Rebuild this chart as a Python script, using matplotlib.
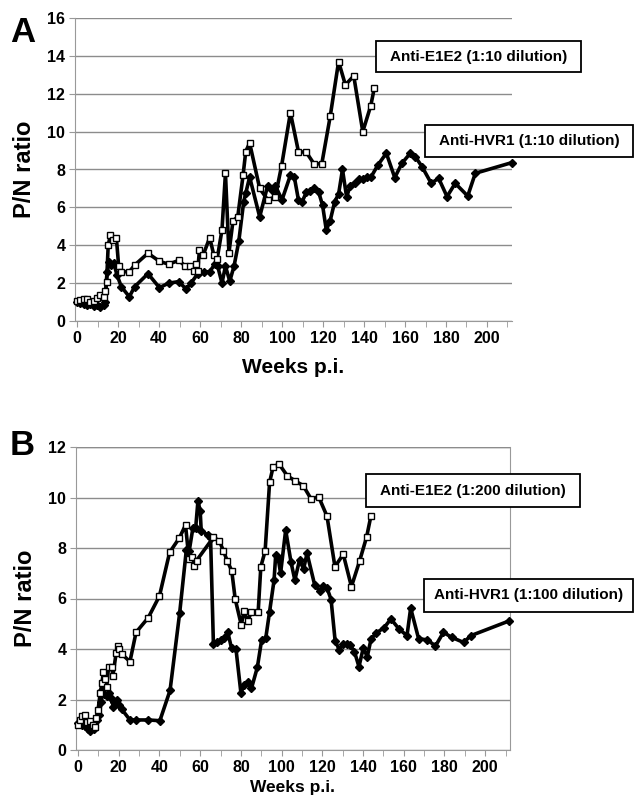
import numpy as np
import matplotlib.pyplot as plt
from matplotlib.patches import Rectangle
from matplotlib.ticker import MultipleLocator

plt.rcParams['font.family'] = ['Liberation Sans', 'DejaVu Sans']
plt.rcParams['font.weight'] = 'bold'

# ---- panel A (1:10 dilution) ----
a_e1e2_wk = [0, 1.6, 3.3, 4.9, 6.5, 8.1, 9.8, 11.4, 13.0, 13.8, 14.4, 15.2, 16.3, 17.4, 19.2,
             20.3, 21.5, 25.5, 28.1, 34.6, 40.2, 44.7, 49.6, 52.8, 55.3, 57.1, 58.0, 58.9, 59.7,
             61.6, 64.7, 66.7, 68.3, 70.7, 72.4, 74.1, 76.1, 78.4, 81.0, 82.3, 84.2, 89.1, 93.0,
             96.7, 99.8, 104.1, 108.0, 111.9, 115.6, 119.4, 123.5, 127.6, 130.9, 135.0, 139.4,
             143.3, 145.0]
a_e1e2 = [1.06, 1.1, 1.15, 1.15, 0.99, 1.06, 1.23, 1.37, 1.28, 1.58, 2.05, 4.0, 4.55, 4.3, 4.37,
          2.9, 2.6, 2.6, 2.95, 3.58, 3.15, 3.0, 3.2, 2.9, 2.9, 2.65, 3.0, 2.65, 3.75,
          3.5, 4.4, 3.5, 3.25, 4.8, 7.8, 3.6, 5.3, 5.5, 7.7, 8.95, 9.4, 7.0, 6.4,
          6.55, 8.2, 11.0, 8.95, 8.9, 8.3, 8.3, 10.8, 13.7, 12.47, 12.94, 10.0,
          11.37, 12.29]

a_hvr1_wk = [0, 1.6, 3.3, 4.9, 6.5, 8.1, 9.8, 11.4, 13.0, 13.8, 14.6, 15.8, 16.8, 17.9, 19.5,
             21.6, 25.5, 28.1, 34.6, 40.2, 44.7, 49.6, 53.2, 55.6, 58.9, 61.8, 64.7, 67.2, 68.6,
             70.7, 72.4, 74.5, 76.6, 78.9, 81.3, 82.3, 84.2, 89.1, 93.0, 95.1, 96.7, 100.0,
             104.1, 106.0, 108.0, 109.8, 111.9, 113.8, 115.8, 117.9, 119.8, 121.6, 123.5,
             125.7, 127.6, 129.5, 131.5, 133.3, 135.4, 137.4, 139.5, 141.5, 143.4, 146.8,
             150.9, 155.0, 158.5, 162.6, 165.0, 168.3, 172.8, 176.4, 180.5, 184.5, 190.6,
             194.3, 212.0]
a_hvr1 = [0.99, 0.93, 0.9, 0.85, 0.88, 0.79, 0.85, 0.76, 0.85, 0.99, 2.6, 3.1, 2.96, 3.05, 2.43,
          1.81, 1.28, 1.81, 2.5, 1.76, 2.0, 2.08, 1.69, 2.0, 2.5, 2.6, 2.6, 3.0, 2.9,
          2.0, 2.9, 2.1, 2.9, 4.2, 6.3, 6.75, 7.6, 5.5, 7.15, 6.9, 7.15, 6.4,
          7.7, 7.6, 6.4, 6.3, 6.8, 6.85, 7.0, 6.8, 6.1, 4.8, 5.3,
          6.3, 6.7, 8.0, 6.55, 7.15, 7.3, 7.5, 7.5, 7.6, 7.6, 8.24,
          8.86, 7.57, 8.33, 8.86, 8.68, 8.15, 7.27, 7.54, 6.57, 7.27, 6.6,
          7.8, 8.36]

# ---- panel B (1:200 / 1:100 dilution) ----
b_e1e2_wk = [0, 1.1, 2.0, 3.3, 4.4, 6.1, 7.2, 8.2, 8.9, 9.8, 10.9, 11.7, 12.5, 13.3, 14.1,
             15.0, 16.6, 17.1, 18.7, 19.5, 20.3, 21.5, 25.5, 28.5, 34.5, 40.0, 45.0, 49.8,
             52.8, 54.5, 55.8, 57.2, 58.2, 66.5, 69.4, 71.4, 73.3, 75.5, 77.2, 80.2, 81.5,
             83.3, 85.2, 88.5, 89.8, 91.9, 94.1, 95.8, 98.7, 102.8, 106.8, 110.6, 114.5,
             118.2, 122.3, 126.2, 130.3, 134.3, 138.3, 141.8, 143.9]
b_e1e2 = [0.99, 1.19, 1.35, 1.39, 1.12, 1.15, 0.99, 0.92, 1.25, 1.58, 2.24, 2.64, 3.1, 2.8, 2.51,
          3.3, 3.3, 2.93, 3.83, 4.12, 4.0, 3.8, 3.5, 4.66, 5.24, 6.1, 7.83, 8.4,
          8.91, 7.55, 7.65, 7.3, 7.5, 8.42, 8.29, 7.89, 7.49, 7.1, 5.98, 4.95, 5.5,
          5.1, 5.48, 5.48, 7.26, 7.88, 10.6, 11.2, 11.33, 10.86, 10.65, 10.47, 9.94,
          10.03, 9.26, 7.26, 7.75, 6.47, 7.48, 8.45, 9.28]

b_hvr1_wk = [0, 2.0, 3.6, 4.9, 6.1, 7.7, 9.3, 10.4, 11.4, 12.0, 13.0, 14.1, 15.3, 16.3, 17.4,
             17.9, 19.0, 20.3, 21.5, 25.5, 28.3, 34.5, 40.2, 45.2, 49.9, 53.2, 54.6, 56.4,
             57.8, 58.9, 60.0, 60.5, 63.8, 65.1, 66.5, 68.5, 70.2, 71.8, 73.5, 75.4, 77.6,
             80.0, 81.6, 83.3, 85.2, 88.1, 90.2, 92.2, 94.1, 96.3, 97.1, 98.3, 99.5, 102.0,
             104.6, 106.5, 108.8, 110.8, 112.5, 116.3, 118.7, 120.4, 122.3, 124.3, 126.3,
             128.4, 130.0, 132.0, 133.7, 135.8, 138.0, 140.1, 142.1, 143.9, 146.3, 150.4,
             153.7, 157.7, 161.6, 163.4, 167.3, 171.6, 175.6, 179.5, 183.6, 189.4, 193.0, 211.7]
b_hvr1 = [1.06, 0.99, 0.95, 0.82, 0.75, 0.82, 1.19, 1.39, 1.91, 2.38, 2.2, 2.15, 2.24, 2.05, 1.71,
          1.9, 1.98, 1.78, 1.61, 1.19, 1.19, 1.19, 1.16, 2.36, 5.41, 7.92, 7.88, 8.78,
          8.81, 9.86, 9.48, 8.69, 8.51, 8.4, 4.2, 4.28, 4.36, 4.42, 4.69, 4.03, 3.99,
          2.27, 2.57, 2.71, 2.44, 3.28, 4.36, 4.42, 5.48, 6.73, 7.72, 7.6, 7.0, 8.71,
          7.45, 6.73, 7.52, 7.17, 7.79, 6.52, 6.31, 6.5, 6.42, 5.96, 4.32,
          3.96, 4.2, 4.2, 4.16, 3.89, 3.3, 4.03, 3.7, 4.38, 4.62, 4.85,
          5.19, 4.79, 4.53, 5.62, 4.41, 4.36, 4.12, 4.66, 4.46, 4.26, 4.53, 5.11]

W, H = 634, 798
fig = plt.figure(figsize=(W / 100, H / 100), dpi=100)


def px_axes(l, t, r, b):
    return fig.add_axes([l / W, 1 - b / H, (r - l) / W, (b - t) / H])


def style(ax, ymax, box):
    ax.set_xlim(-1, 212.2)
    ax.set_ylim(0, ymax)
    ax.xaxis.set_major_locator(MultipleLocator(20))
    ax.xaxis.set_minor_locator(MultipleLocator(10))
    ax.yaxis.set_major_locator(MultipleLocator(2))
    ax.grid(axis='y', color='#8c8c8c', lw=1.0)
    ax.set_axisbelow(True)
    for s in ['left', 'bottom']:
        ax.spines[s].set_color('#999999')
    ax.spines['top'].set_visible(False)
    ax.spines['right'].set_visible(box)
    ax.spines['right'].set_color('#999999')
    ax.tick_params(which='both', direction='out', color='#999999', length=4,
                   labelsize=11.5, pad=3)
    ax.tick_params(which='minor', labelbottom=False)
    for lab in ax.get_xticklabels() + ax.get_yticklabels():
        lab.set_fontweight('bold')


def series(ax, x, y, sq):
    if sq:
        ax.plot(x, y, '-', color='black', lw=2.6, marker='s', ms=4.6, mfc='white',
                mec='black', mew=1.0, zorder=4, clip_on=False)
    else:
        ax.plot(x, y, '-', color='black', lw=2.6, marker='D', ms=3.6, mfc='black',
                mec='black', zorder=3, clip_on=False)


def label_box(x0, y0, x1, y1, txt):
    fig.add_artist(Rectangle((x0 / W, 1 - y1 / H), (x1 - x0) / W, (y1 - y0) / H,
                             transform=fig.transFigure, fc='white', ec='black', lw=1.3))
    fig.text((x0 + x1) / 2 / W, 1 - (y0 + y1) / 2 / H, txt, ha='center', va='center',
             fontsize=11, fontweight='bold')


axA = px_axes(75, 18, 512, 321)
style(axA, 16, False)
series(axA, a_hvr1_wk, a_hvr1, False)
series(axA, a_e1e2_wk, a_e1e2, True)
axA.set_ylabel('P/N ratio', fontsize=17, fontweight='bold', labelpad=8)
axA.set_xlabel('Weeks p.i.', fontsize=15, fontweight='bold', labelpad=9)

axB = px_axes(76, 447, 510, 750)
style(axB, 12, True)
series(axB, b_hvr1_wk, b_hvr1, False)
series(axB, b_e1e2_wk, b_e1e2, True)
axB.axhline(12, color='#8c8c8c', lw=1.0)
axB.set_ylabel('P/N ratio', fontsize=17, fontweight='bold', labelpad=8)
axB.set_xlabel('Weeks p.i.', fontsize=12.5, fontweight='bold', labelpad=4)

fig.text(10 / W, 1 - 32 / H, 'A', fontsize=25, fontweight='bold', va='center')
fig.text(10 / W, 1 - 445 / H, 'B', fontsize=25, fontweight='bold', va='center')

label_box(376, 41, 581, 72, 'Anti-E1E2 (1:10 dilution)')
label_box(425, 125, 633, 157, 'Anti-HVR1 (1:10 dilution)')
label_box(366, 474, 580, 507, 'Anti-E1E2 (1:200 dilution)')
label_box(424, 579, 633, 612, 'Anti-HVR1 (1:100 dilution)')

fig.savefig('out.png', dpi=100)
